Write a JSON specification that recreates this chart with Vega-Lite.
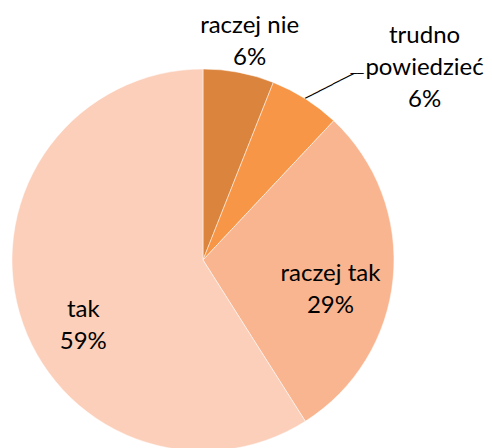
{
  "$schema": "https://vega.github.io/schema/vega-lite/v6.json",
  "width": 406,
  "height": 376,
  "padding": {"left": 0, "top": 72, "right": 86, "bottom": 0},
  "autosize": "none",
  "background": "white",
  "config": {"view": {"stroke": null}},
  "data": {
    "values": [
      {"cat": "raczej nie", "value": 6, "i": 1},
      {"cat": "trudno powiedzieć", "value": 6, "i": 2},
      {"cat": "raczej tak", "value": 29, "i": 3},
      {"cat": "tak", "value": 59, "i": 4}
    ]
  },
  "transform": [
    {"calculate": "replace(datum.cat, 'trudno ', 'trudno\\n') + '\\n' + datum.value + '%'", "as": "label"}
  ],
  "encoding": {
    "theta": {"field": "value", "type": "quantitative", "stack": true},
    "order": {"field": "i", "type": "quantitative"}
  },
  "layer": [
    {
      "mark": {"type": "arc", "radius": 191, "stroke": "white", "strokeWidth": 0.5},
      "encoding": {
        "color": {
          "field": "cat",
          "type": "nominal",
          "scale": {
            "domain": ["raczej nie", "trudno powiedzieć", "raczej tak", "tak"],
            "range": ["#DB843D", "#F79646", "#F9B590", "#FBCFBA"]
          },
          "legend": null
        }
      }
    },
    {
      "mark": {"type": "text", "radius": 222, "dx": 5, "dy": -16, "font": "Lato", "fontSize": 24, "lineBreak": "\n", "lineHeight": 32, "align": "center", "baseline": "middle", "color": "#000000"},
      "encoding": {"text": {"condition": {"test": "datum.cat === 'raczej nie'", "field": "label", "type": "nominal"}, "value": ""}}
    },
    {
      "mark": {"type": "text", "radius": 281, "dx": 71, "dy": 13, "font": "Lato", "fontSize": 24, "lineBreak": "\n", "lineHeight": 32, "align": "center", "baseline": "middle", "color": "#000000"},
      "encoding": {"text": {"condition": {"test": "datum.cat === 'trudno powiedzieć'", "field": "label", "type": "nominal"}, "value": ""}}
    },
    {
      "mark": {"type": "text", "radius": 130, "dx": -2, "dy": 2, "font": "Lato", "fontSize": 24, "lineBreak": "\n", "lineHeight": 32, "align": "center", "baseline": "middle", "color": "#000000"},
      "encoding": {"text": {"condition": {"test": "datum.cat === 'raczej tak'", "field": "label", "type": "nominal"}, "value": ""}}
    },
    {
      "mark": {"type": "text", "radius": 133, "dx": 8, "dy": 13, "font": "Lato", "fontSize": 24, "lineBreak": "\n", "lineHeight": 32, "align": "center", "baseline": "middle", "color": "#000000"},
      "encoding": {"text": {"condition": {"test": "datum.cat === 'tak'", "field": "label", "type": "nominal"}, "value": ""}}
    },
    {
      "mark": {"type": "text", "radius": 191, "angle": -27, "font": "DejaVu Sans", "fontSize": 13, "align": "left", "baseline": "middle", "color": "#000000"},
      "encoding": {"text": {"condition": {"test": "datum.cat === 'trudno powiedzieć'", "value": "───────"}, "value": ""}}
    },
    {
      "mark": {"type": "text", "radius": 236, "dx": 21, "dy": 13, "font": "DejaVu Sans", "fontSize": 11, "align": "left", "baseline": "middle", "color": "#000000"},
      "encoding": {"text": {"condition": {"test": "datum.cat === 'trudno powiedzieć'", "value": "──"}, "value": ""}}
    }
  ]
}
